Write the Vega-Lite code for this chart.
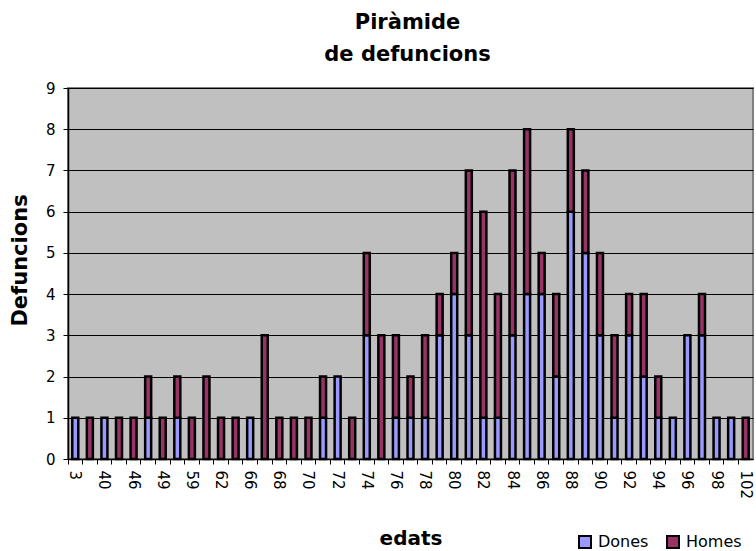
{
  "$schema": "https://vega.github.io/schema/vega-lite/v6.json",
  "width": 685,
  "height": 371,
  "autosize": "none",
  "padding": {"left": 68, "top": 88, "right": 3, "bottom": 92},
  "background": "white",
  "title": {
    "text": ["Piràmide", "de defuncions"],
    "font": "DejaVu Sans",
    "fontSize": 21,
    "fontWeight": "bold",
    "color": "black",
    "lineHeight": 32,
    "anchor": "middle",
    "offset": 16,
    "dx": -3
  },
  "config": {
    "view": {"fill": "#C0C0C0", "stroke": "#808080", "strokeWidth": 2},
    "font": "DejaVu Sans"
  },
  "data": {
    "values": [
      {"age": 3, "sexe": "Dones", "n": 1},
      {"age": 35, "sexe": "Homes", "n": 1},
      {"age": 40, "sexe": "Dones", "n": 1},
      {"age": 43, "sexe": "Homes", "n": 1},
      {"age": 46, "sexe": "Homes", "n": 1},
      {"age": 48, "sexe": "Dones", "n": 1},
      {"age": 48, "sexe": "Homes", "n": 1},
      {"age": 49, "sexe": "Homes", "n": 1},
      {"age": 55, "sexe": "Dones", "n": 1},
      {"age": 55, "sexe": "Homes", "n": 1},
      {"age": 59, "sexe": "Homes", "n": 1},
      {"age": 61, "sexe": "Homes", "n": 2},
      {"age": 62, "sexe": "Homes", "n": 1},
      {"age": 64, "sexe": "Homes", "n": 1},
      {"age": 66, "sexe": "Dones", "n": 1},
      {"age": 67, "sexe": "Homes", "n": 3},
      {"age": 68, "sexe": "Homes", "n": 1},
      {"age": 69, "sexe": "Homes", "n": 1},
      {"age": 70, "sexe": "Homes", "n": 1},
      {"age": 71, "sexe": "Dones", "n": 1},
      {"age": 71, "sexe": "Homes", "n": 1},
      {"age": 72, "sexe": "Dones", "n": 2},
      {"age": 73, "sexe": "Homes", "n": 1},
      {"age": 74, "sexe": "Dones", "n": 3},
      {"age": 74, "sexe": "Homes", "n": 2},
      {"age": 75, "sexe": "Homes", "n": 3},
      {"age": 76, "sexe": "Dones", "n": 1},
      {"age": 76, "sexe": "Homes", "n": 2},
      {"age": 77, "sexe": "Dones", "n": 1},
      {"age": 77, "sexe": "Homes", "n": 1},
      {"age": 78, "sexe": "Dones", "n": 1},
      {"age": 78, "sexe": "Homes", "n": 2},
      {"age": 79, "sexe": "Dones", "n": 3},
      {"age": 79, "sexe": "Homes", "n": 1},
      {"age": 80, "sexe": "Dones", "n": 4},
      {"age": 80, "sexe": "Homes", "n": 1},
      {"age": 81, "sexe": "Dones", "n": 3},
      {"age": 81, "sexe": "Homes", "n": 4},
      {"age": 82, "sexe": "Dones", "n": 1},
      {"age": 82, "sexe": "Homes", "n": 5},
      {"age": 83, "sexe": "Dones", "n": 1},
      {"age": 83, "sexe": "Homes", "n": 3},
      {"age": 84, "sexe": "Dones", "n": 3},
      {"age": 84, "sexe": "Homes", "n": 4},
      {"age": 85, "sexe": "Dones", "n": 4},
      {"age": 85, "sexe": "Homes", "n": 4},
      {"age": 86, "sexe": "Dones", "n": 4},
      {"age": 86, "sexe": "Homes", "n": 1},
      {"age": 87, "sexe": "Dones", "n": 2},
      {"age": 87, "sexe": "Homes", "n": 2},
      {"age": 88, "sexe": "Dones", "n": 6},
      {"age": 88, "sexe": "Homes", "n": 2},
      {"age": 89, "sexe": "Dones", "n": 5},
      {"age": 89, "sexe": "Homes", "n": 2},
      {"age": 90, "sexe": "Dones", "n": 3},
      {"age": 90, "sexe": "Homes", "n": 2},
      {"age": 91, "sexe": "Dones", "n": 1},
      {"age": 91, "sexe": "Homes", "n": 2},
      {"age": 92, "sexe": "Dones", "n": 3},
      {"age": 92, "sexe": "Homes", "n": 1},
      {"age": 93, "sexe": "Dones", "n": 2},
      {"age": 93, "sexe": "Homes", "n": 2},
      {"age": 94, "sexe": "Dones", "n": 1},
      {"age": 94, "sexe": "Homes", "n": 1},
      {"age": 95, "sexe": "Dones", "n": 1},
      {"age": 96, "sexe": "Dones", "n": 3},
      {"age": 97, "sexe": "Dones", "n": 3},
      {"age": 97, "sexe": "Homes", "n": 1},
      {"age": 98, "sexe": "Dones", "n": 1},
      {"age": 100, "sexe": "Dones", "n": 1},
      {"age": 102, "sexe": "Homes", "n": 1}
    ]
  },
  "mark": {"type": "bar", "size": 6, "stroke": "black", "strokeWidth": 2.5, "opacity": 1, "fillOpacity": 1, "strokeOpacity": 1},
  "encoding": {
    "x": {
      "field": "age",
      "type": "ordinal",
      "scale": {"paddingInner": 0, "paddingOuter": 0},
      "axis": {
        "zindex": 0,
        "title": "edats",
        "titleFont": "DejaVu Sans",
        "titleFontSize": 20,
        "titleFontWeight": "bold",
        "titleColor": "black",
        "titleY": 79,
        "titleBaseline": "middle",
        "labelAngle": 90,
        "labelAlign": "left",
        "labelBaseline": "middle",
        "labelFont": "DejaVu Sans",
        "labelFontSize": 15,
        "labelColor": "black",
        "labelPadding": 6,
        "labelOverlap": false,
        "labelExpr": "indexof([3,40,46,49,59,62,66,68,70,72,74,76,78,80,82,84,86,88,90,92,94,96,98,102], datum.value) >= 0 ? datum.label : ''",
        "bandPosition": 0,
        "domainColor": "black",
        "domainWidth": 1.5,
        "tickColor": "black",
        "tickSize": 5,
        "grid": false
      }
    },
    "y": {
      "field": "n",
      "type": "quantitative",
      "aggregate": "sum",
      "stack": "zero",
      "scale": {"domain": [0, 9], "nice": false},
      "axis": {
        "zindex": 0,
        "title": "Defuncions",
        "titleFont": "DejaVu Sans",
        "titleFontSize": 21,
        "titleFontWeight": "bold",
        "titleColor": "black",
        "titleX": -48,
        "titleY": 172,
        "titleAngle": -90,
        "titleAlign": "center",
        "titleBaseline": "middle",
        "values": [0, 1, 2, 3, 4, 5, 6, 7, 8, 9],
        "labelFont": "DejaVu Sans",
        "labelFontSize": 15,
        "labelColor": "black",
        "labelPadding": 8,
        "domainColor": "black",
        "domainWidth": 1.5,
        "tickColor": "black",
        "tickSize": 5,
        "grid": true,
        "gridColor": "black",
        "gridWidth": 1,
        "gridOpacity": 1
      }
    },
    "color": {
      "field": "sexe",
      "type": "nominal",
      "scale": {"domain": ["Dones", "Homes"], "range": ["#9999FF", "#993366"]},
      "legend": {
        "title": null,
        "orient": "none",
        "legendX": 509,
        "legendY": 446,
        "padding": 0,
        "direction": "horizontal",
        "symbolType": "square",
        "symbolSize": 144,
        "symbolStrokeColor": "black",
        "symbolStrokeWidth": 2,
        "symbolOpacity": 1,
        "labelFont": "DejaVu Sans",
        "labelFontSize": 16,
        "labelColor": "black",
        "labelOffset": 5,
        "columnPadding": 14
      }
    },
    "order": {"field": "sexe", "type": "nominal", "sort": "ascending"}
  }
}
